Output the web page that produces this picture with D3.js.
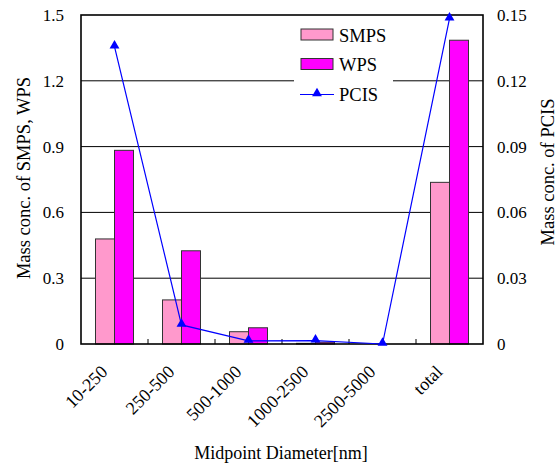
<!DOCTYPE html>
<html><head><meta charset="utf-8">
<script src="https://cdn.jsdelivr.net/npm/d3@7"></script>
<style>body{margin:0;background:#fff}svg{display:block}</style>
</head><body><svg id="c" width="559" height="466" font-family="'Liberation Serif', 'DejaVu Serif', serif"></svg>
<script>
const categories = ["10-250","250-500","500-1000","1000-2500","2500-5000","total"];
const smps = [0.479, 0.201, 0.056, 0.003, 0.0, 0.737];
const wps  = [0.883, 0.425, 0.074, 0.008, 0.0, 1.385];
const pcis = [0.1356, 0.0087, 0.0014, 0.0015, 0.0, 0.1483];
const leftTicks = [0, 0.3, 0.6, 0.9, 1.2, 1.5];
const rightTicks = [0, 0.03, 0.06, 0.09, 0.12, 0.15];

const svg = d3.select("#c");
const L = 81, R = 483, T = 15, B = 344;
const x = d3.scaleBand().domain(categories).range([L, R]);
const xs = d3.scaleBand().domain(["SMPS","WPS"]).range([0, 38]);
const yL = d3.scaleLinear().domain([0, 1.5]).range([B, T]);
const yR = d3.scaleLinear().domain([0, 0.15]).range([B, T]);

// gridlines
svg.append("g").selectAll("line").data(leftTicks.slice(1, -1)).join("line")
  .attr("x1", L).attr("x2", R).attr("y1", d => yL(d)).attr("y2", d => yL(d))
  .attr("stroke", "#000").attr("stroke-width", 1);

// bars
const grp = svg.append("g").selectAll("g").data(categories).join("g")
  .attr("transform", d => `translate(${x(d) + x.bandwidth()/2 - 19},0)`);
grp.append("rect").attr("x", xs("SMPS")).attr("width", xs.bandwidth())
  .attr("y", (d,i) => yL(smps[i])).attr("height", (d,i) => B - yL(smps[i]))
  .attr("fill", "#FF99CC").attr("stroke", "#333").attr("stroke-width", 1);
grp.append("rect").attr("x", xs("WPS")).attr("width", xs.bandwidth())
  .attr("y", (d,i) => yL(wps[i])).attr("height", (d,i) => B - yL(wps[i]))
  .attr("fill", "#FF00FF").attr("stroke", "#333").attr("stroke-width", 1);

// frame
svg.append("rect").attr("x", L).attr("y", T).attr("width", R - L).attr("height", B - T)
  .attr("fill", "none").attr("stroke", "#000").attr("stroke-width", 1.6);

// x ticks (inward)
svg.append("g").selectAll("line").data(d3.range(1, categories.length)).join("line")
  .attr("x1", i => L + i * x.step()).attr("x2", i => L + i * x.step())
  .attr("y1", B).attr("y2", B - 5).attr("stroke", "#000").attr("stroke-width", 1);

// PCIS line
const cx = d => x(d) + x.bandwidth()/2;
const line = d3.line().x((d,i) => cx(categories[i])).y(d => yR(d));
svg.append("path").datum(pcis).attr("d", line).attr("fill", "none")
  .attr("stroke", "#0000FF").attr("stroke-width", 1.2);
const tri = d3.symbol().type(d3.symbolTriangle).size(42);
svg.append("g").selectAll("path").data(pcis).join("path")
  .attr("d", tri).attr("transform", (d,i) => `translate(${cx(categories[i])},${yR(d) - 1})`)
  .attr("fill", "#0000FF");

// left tick labels
svg.append("g").selectAll("text").data(leftTicks).join("text")
  .attr("x", 64).attr("y", d => yL(d) + 6).attr("text-anchor", "end")
  .attr("font-size", 17).text(d => d === 0 ? "0" : d.toFixed(1));
// right tick labels
svg.append("g").selectAll("text").data(rightTicks).join("text")
  .attr("x", 497).attr("y", d => yR(d) + 6).attr("text-anchor", "start")
  .attr("font-size", 17).text(d => d === 0 ? "0" : d.toFixed(2));

// category labels
svg.append("g").selectAll("text").data(categories).join("text")
  .attr("transform", d => `translate(${cx(d) - 6},${B + 29}) rotate(-45)`)
  .attr("text-anchor", "end").attr("font-size", 18).text(d => d);

// axis titles
svg.append("text").attr("x", 281).attr("y", 459).attr("text-anchor", "middle")
  .attr("font-size", 18).text("Midpoint Diameter[nm]");
svg.append("text").attr("transform", "translate(30,178) rotate(-90)")
  .attr("text-anchor", "middle").attr("font-size", 18.5).text("Mass conc. of SMPS, WPS");
svg.append("text").attr("transform", "translate(554,172) rotate(-90)")
  .attr("text-anchor", "middle").attr("font-size", 18.5).text("Mass conc. of PCIS");

// legend
const lg = svg.append("g");
lg.append("rect").attr("x", 294).attr("y", 20).attr("width", 99).attr("height", 88).attr("fill", "#fff");
const legendItems = [["SMPS","#FF99CC",35],["WPS","#FF00FF",64.5]];
legendItems.forEach(([n,c,y]) => {
  lg.append("rect").attr("x", 301).attr("y", y - 6).attr("width", 32).attr("height", 11)
    .attr("fill", c).attr("stroke", "#333").attr("stroke-width", 1);
  lg.append("text").attr("x", 339).attr("y", y + 6.5).attr("font-size", 18.5).text(n);
});
lg.append("line").attr("x1", 300).attr("x2", 334).attr("y1", 94.5).attr("y2", 94.5)
  .attr("stroke", "#0000FF").attr("stroke-width", 1.2);
lg.append("path").attr("d", tri).attr("transform", "translate(317,93.5)").attr("fill", "#0000FF");
lg.append("text").attr("x", 339).attr("y", 100.5).attr("font-size", 18.5).text("PCIS");
</script></body></html>
